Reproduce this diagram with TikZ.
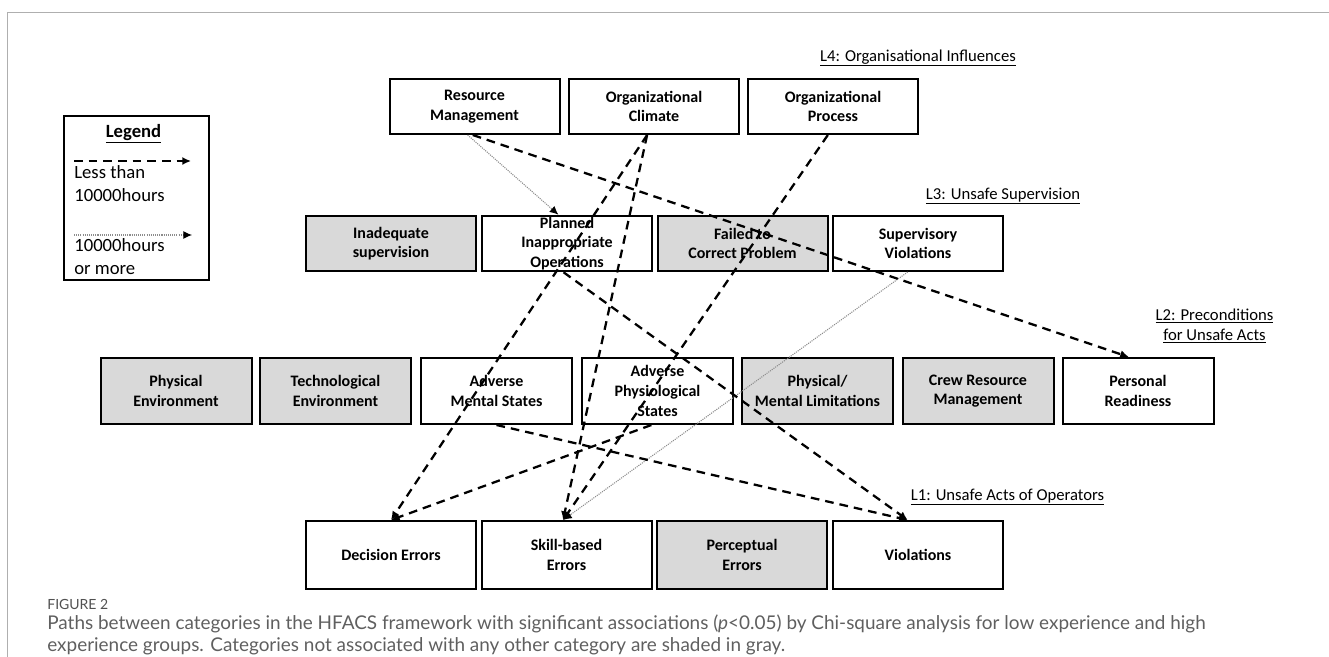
\documentclass[tikz,border=0pt]{standalone}
\usepackage{fontspec}
\setmainfont{Carlito}
\newfontfamily\capfont{Lato}
\usetikzlibrary{arrows.meta,calc}
\definecolor{ink}{RGB}{0,0,0}
\definecolor{shade}{RGB}{217,217,217}
\definecolor{dotgray}{RGB}{140,140,140}
\definecolor{rulegray}{RGB}{175,175,175}
\definecolor{captext}{RGB}{95,95,95}
\tikzset{
  every picture/.style={x=0.75pt, y=-0.75pt, line width=0.5pt},
  box/.style={draw=ink, line width=1.5pt, fill=white, align=center, inner sep=1pt, font=\fontsize{12}{14.7}\selectfont\bfseries},
  upbox/.style={box, minimum width=127.5pt, minimum height=41.25pt},
  midbox/.style={box, minimum width=113.25pt, minimum height=49.5pt},
  lowbox/.style={box, minimum width=127.5pt, minimum height=51pt},
  shaded/.style={fill=shade},
  lowexp/.style={-{Latex[length=6.5pt,width=6pt]}, line width=1.7pt, dash pattern=on 6.5pt off 4.5pt},
  highexp/.style={-{Latex[length=6.5pt,width=6pt,color=ink]}, line width=0.8pt, color=dotgray, dash pattern=on 0.8pt off 0.8pt},
  tier/.style={font=\fontsize{12.5}{15}\selectfont, align=center, inner sep=0pt},
  legtext/.style={font=\fontsize{14}{17}\selectfont, align=left, anchor=west, inner sep=0pt},
  capstyle/.style={font=\capfont\fontsize{14.2}{16}\selectfont, text=captext, inner sep=0pt},
}

\begin{document}
\begin{tikzpicture}
  \useasboundingbox (0,0) rectangle (1329,657);
  \draw[rulegray] (7,657) -- (7,12) -- (1329,12);
  % legend
  \node[draw=ink, line width=1.1pt, minimum width=108.75pt, minimum height=123pt, inner sep=0pt] (legend) at (136.5,198) {};
  \node[font=\fontsize{14}{17}\selectfont\bfseries, inner sep=0pt] (legtitle) at (133.5,134) {\underline{Legend}};
  \coordinate (lowA) at (74,161);
  \coordinate (lowB) at (191,161);
  \draw[lowexp] (lowA) -- (lowB);
  \node[legtext] (lowtxt) at (74,183.5) {Less than\\10000hours};
  \coordinate (highA) at (74,235);
  \coordinate (highB) at (192,235);
  \draw[highexp] (highA) -- (highB);
  \node[legtext] (hightxt) at (74,256.5) {10000hours\\or more};
  % level labels
  \node[tier] (L4) at (918,58) {\underline{L4: Organisational Influences}};
  \node[tier] (L3) at (1003,196) {\underline{L3: Unsafe Supervision}};
  \node[tier] (L2) at (1214.5,326) {\underline{L2: Preconditions}\\\underline{for Unsafe Acts}};
  \node[tier] (L1) at (1007.5,497) {\underline{L1: Unsafe Acts of Operators}};
  % L4
  \node[upbox] (RM) at (474.5,106.5) {Resource\\Management};
  \node[upbox] (OC) at (654,106.5) {Organizational\\Climate};
  \node[upbox] (OP) at (833,106.5) {Organizational\\Process};
  % L3
  \node[upbox, shaded] (IS) at (391,243.5) {Inadequate\\supervision};
  \node[upbox] (PIO) at (567,243.5) {Planned\\Inappropriate\\Operations};
  \node[upbox, shaded] (FCP) at (742.5,243.5) {Failed to\\Correct Problem};
  \node[upbox] (SV) at (918,243.5) {Supervisory\\Violations};
  % L2
  \node[midbox, shaded] (PE) at (176,391) {Physical\\Environment};
  \node[midbox, shaded] (TE) at (335.5,391) {Technological\\Environment};
  \node[midbox] (AMS) at (496.5,391) {Adverse\\Mental States};
  \node[midbox] (APS) at (657.5,391) {Adverse\\Physiological\\States};
  \node[midbox, shaded] (PML) at (817.5,391) {Physical/\\Mental Limitations};
  \node[midbox, shaded] (CRM) at (978,391) {Crew Resource\\Management};
  \node[midbox] (PR) at (1138,391) {Personal\\Readiness};
  % L1
  \node[lowbox] (DE) at (391,555) {Decision Errors};
  \node[lowbox] (SE) at (566.5,555) {Skill-based\\Errors};
  \node[lowbox, shaded] (PCE) at (742,555) {Perceptual\\Errors};
  \node[lowbox] (VI) at (918,555) {Violations};
  % paths, high experience
  \draw[highexp] ($(RM.south west)!.46!(RM.south east)$) -- ($(PIO.north west)!.45!(PIO.north east)$);
  \draw[highexp] ($(SV.south west)!.44!(SV.south east)$) -- ($(SE.north west)!.48!(SE.north east)$);
  % paths, low experience
  \draw[lowexp] ($(RM.south west)!.49!(RM.south east)$) -- ($(PR.north west)!.44!(PR.north east)$);
  \draw[lowexp] ($(OC.south west)!.46!(OC.south east)$) -- (DE.north);
  \draw[lowexp] ($(OC.south west)!.46!(OC.south east)$) -- ($(SE.north west)!.48!(SE.north east)$);
  \draw[lowexp] ($(OP.south west)!.47!(OP.south east)$) -- ($(SE.north west)!.48!(SE.north east)$);
  \draw[lowexp] ($(PIO.south west)!.48!(PIO.south east)$) -- ($(VI.north west)!.44!(VI.north east)$);
  \draw[lowexp] (AMS.south) -- ($(VI.north west)!.44!(VI.north east)$);
  \draw[lowexp] ($(APS.south west)!.46!(APS.south east)$) -- (DE.north);
  % caption
  \node[capstyle, anchor=west, font=\capfont\fontsize{10.5}{12}\selectfont, text=captext!85!black] (figno) at (47,604) {FIGURE 2};
  \node[capstyle, anchor=west, align=left] (captext) at (47,635) {Paths between categories in the HFACS framework with significant associations (\textit{p}<0.05) by Chi-square analysis for low experience and high\\experience groups. Categories not associated with any other category are shaded in gray.};
\end{tikzpicture}
\end{document}
